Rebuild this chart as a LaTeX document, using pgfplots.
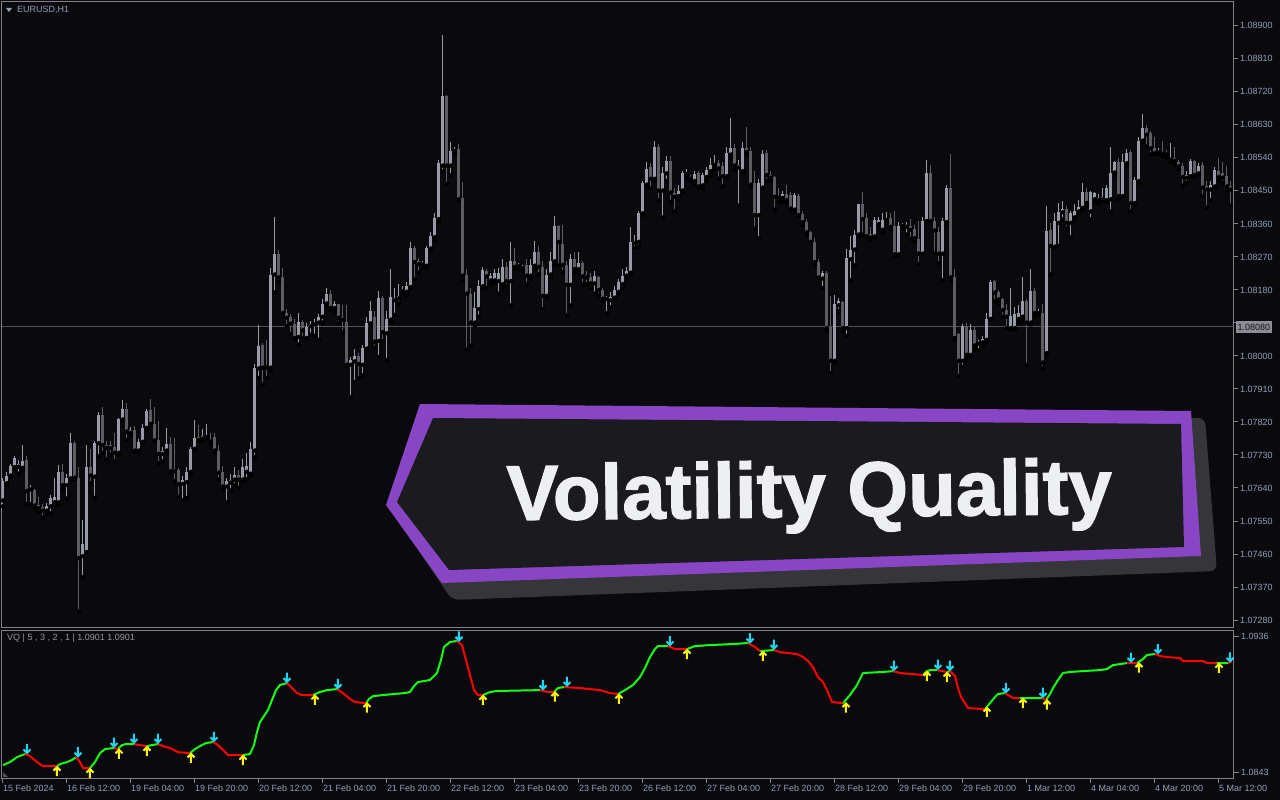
\documentclass[border=0pt]{standalone}
\usepackage{fontspec}
\setmainfont{Liberation Sans}
\newfontfamily\bannerfont[FakeBold=1.6]{Liberation Sans Bold}
\usepackage{pgfplots}
\usepackage{pgfplotstable}
\pgfplotsset{compat=1.18}

\definecolor{bgc}{RGB}{10,10,14}
\definecolor{framec}{RGB}{130,130,138}
\definecolor{labelc}{RGB}{146,158,182}
\definecolor{bullc}{RGB}{152,154,166}
\definecolor{bearc}{RGB}{92,92,98}
\definecolor{hlinec}{RGB}{80,80,86}
\definecolor{tagc}{RGB}{140,140,148}
\definecolor{vqgreen}{RGB}{20,255,20}
\definecolor{vqred}{RGB}{255,0,0}
\definecolor{vqcyan}{RGB}{30,215,245}
\definecolor{vqyellow}{RGB}{250,245,20}
\definecolor{vqlabel}{RGB}{150,150,158}
\definecolor{bannerpurple}{RGB}{137,70,196}
\definecolor{bannerfill}{RGB}{26,26,31}
\definecolor{bannershadow}{RGB}{53,53,58}
\definecolor{bannertext}{RGB}{238,239,243}

% EURUSD H1 candles: index, open, high, low, close
\pgfplotstableread{
i o h l c
0 1.07606 1.07668 1.07590 1.07658
1 1.07653 1.07684 1.07648 1.07674
2 1.07674 1.07705 1.07668 1.07700
3 1.07697 1.07726 1.07689 1.07721
4 1.07698 1.07715 1.07679 1.07705
5 1.07695 1.07757 1.07689 1.07713
6 1.07715 1.07726 1.07596 1.07632
7 1.07636 1.07648 1.07596 1.07638
8 1.07634 1.07637 1.07585 1.07592
9 1.07593 1.07616 1.07575 1.07585
10 1.07588 1.07596 1.07559 1.07578
11 1.07578 1.07598 1.07569 1.07590
12 1.07590 1.07621 1.07571 1.07613
13 1.07601 1.07668 1.07590 1.07616
14 1.07601 1.07703 1.07595 1.07684
15 1.07684 1.07705 1.07637 1.07648
16 1.07648 1.07679 1.07611 1.07666
17 1.07666 1.07789 1.07663 1.07762
18 1.07762 1.07768 1.07663 1.07668
19 1.07668 1.07697 1.07303 1.07449
20 1.07454 1.07554 1.07397 1.07486
21 1.07465 1.07757 1.07465 1.07697
22 1.07697 1.07745 1.07653 1.07674
23 1.07671 1.07768 1.07613 1.07762
24 1.07762 1.07846 1.07726 1.07839
25 1.07839 1.07860 1.07736 1.07757
26 1.07757 1.07768 1.07718 1.07749
27 1.07757 1.07768 1.07731 1.07749
28 1.07752 1.07789 1.07713 1.07736
29 1.07736 1.07830 1.07731 1.07828
30 1.07827 1.07879 1.07822 1.07856
31 1.07856 1.07872 1.07770 1.07794
32 1.07791 1.07807 1.07783 1.07799
33 1.07799 1.07810 1.07739 1.07742
34 1.07742 1.07773 1.07736 1.07766
35 1.07766 1.07815 1.07762 1.07804
36 1.07804 1.07856 1.07799 1.07851
37 1.07853 1.07882 1.07810 1.07815
38 1.07815 1.07860 1.07768 1.07770
39 1.07770 1.07822 1.07707 1.07733
40 1.07733 1.07752 1.07713 1.07742
41 1.07742 1.07804 1.07736 1.07759
42 1.07759 1.07778 1.07682 1.07686
43 1.07691 1.07775 1.07658 1.07686
44 1.07689 1.07695 1.07616 1.07651
45 1.07651 1.07672 1.07606 1.07661
46 1.07656 1.07697 1.07613 1.07684
47 1.07684 1.07752 1.07679 1.07747
48 1.07747 1.07825 1.07745 1.07776
49 1.07778 1.07812 1.07768 1.07771
50 1.07775 1.07801 1.07768 1.07781
51 1.07778 1.07815 1.07773 1.07783
52 1.07771 1.07789 1.07757 1.07766
53 1.07780 1.07789 1.07736 1.07742
54 1.07742 1.07757 1.07663 1.07682
55 1.07684 1.07700 1.07637 1.07644
56 1.07644 1.07668 1.07601 1.07658
57 1.07655 1.07679 1.07634 1.07663
58 1.07663 1.07697 1.07648 1.07676
59 1.07676 1.07689 1.07640 1.07663
60 1.07663 1.07718 1.07658 1.07697
61 1.07684 1.07736 1.07663 1.07700
62 1.07679 1.07766 1.07674 1.07745
63 1.07742 1.07978 1.07724 1.07966
64 1.07966 1.08084 1.07940 1.08027
65 1.08029 1.08034 1.07922 1.07968
66 1.07971 1.08044 1.07940 1.07968
67 1.07968 1.08239 1.07958 1.08222
68 1.08222 1.08378 1.08173 1.08279
69 1.08279 1.08288 1.08201 1.08214
70 1.08214 1.08239 1.08112 1.08117
71 1.08117 1.08128 1.08081 1.08104
72 1.08107 1.08114 1.08060 1.08088
73 1.08088 1.08101 1.08047 1.08049
74 1.08052 1.08117 1.08031 1.08093
75 1.08093 1.08099 1.08049 1.08070
76 1.08049 1.08091 1.08047 1.08078
77 1.08081 1.08096 1.08058 1.08086
78 1.08086 1.08101 1.08055 1.08091
79 1.08091 1.08114 1.08044 1.08107
80 1.08107 1.08154 1.08091 1.08143
81 1.08143 1.08185 1.08138 1.08170
82 1.08170 1.08180 1.08125 1.08131
83 1.08131 1.08149 1.08122 1.08141
84 1.08141 1.08143 1.08091 1.08104
85 1.08107 1.08138 1.08065 1.08099
86 1.08093 1.08138 1.07971 1.07976
87 1.07976 1.07997 1.07888 1.07989
88 1.07985 1.08018 1.07929 1.07999
89 1.07999 1.08008 1.07940 1.07978
90 1.07976 1.08029 1.07947 1.08023
91 1.08020 1.08107 1.08016 1.08091
92 1.08089 1.08149 1.08081 1.08122
93 1.08107 1.08122 1.08023 1.08039
94 1.08041 1.08177 1.07997 1.08159
95 1.08159 1.08164 1.08041 1.08065
96 1.08062 1.08122 1.07989 1.08101
97 1.08099 1.08237 1.08091 1.08162
98 1.08152 1.08185 1.08112 1.08159
99 1.08157 1.08196 1.08143 1.08164
100 1.08177 1.08190 1.08170 1.08182
101 1.08175 1.08201 1.08166 1.08190
102 1.08188 1.08311 1.08185 1.08293
103 1.08293 1.08300 1.08208 1.08256
104 1.08258 1.08267 1.08227 1.08250
105 1.08250 1.08260 1.08239 1.08251
106 1.08246 1.08300 1.08239 1.08295
107 1.08293 1.08337 1.08288 1.08326
108 1.08324 1.08389 1.08316 1.08376
109 1.08373 1.08535 1.08368 1.08525
110 1.08519 1.08874 1.08504 1.08709
111 1.08709 1.08712 1.08469 1.08519
112 1.08519 1.08582 1.08493 1.08559
113 1.08559 1.08571 1.08551 1.08563
114 1.08563 1.08577 1.08425 1.08427
115 1.08431 1.08475 1.08206 1.08219
116 1.08222 1.08237 1.08018 1.08170
117 1.08170 1.08185 1.08029 1.08091
118 1.08091 1.08175 1.08081 1.08131
119 1.08128 1.08206 1.08107 1.08190
120 1.08190 1.08243 1.08185 1.08235
121 1.08232 1.08237 1.08185 1.08217
122 1.08206 1.08227 1.08196 1.08219
123 1.08206 1.08237 1.08198 1.08227
124 1.08204 1.08239 1.08170 1.08227
125 1.08196 1.08264 1.08185 1.08243
126 1.08243 1.08256 1.08190 1.08204
127 1.08204 1.08311 1.08138 1.08260
128 1.08260 1.08295 1.08237 1.08243
129 1.08244 1.08253 1.08237 1.08245
130 1.08239 1.08248 1.08232 1.08243
131 1.08248 1.08264 1.08196 1.08219
132 1.08219 1.08264 1.08211 1.08248
133 1.08246 1.08313 1.08237 1.08284
134 1.08284 1.08300 1.08222 1.08243
135 1.08243 1.08258 1.08128 1.08164
136 1.08164 1.08237 1.08159 1.08222
137 1.08222 1.08284 1.08217 1.08260
138 1.08258 1.08381 1.08248 1.08354
139 1.08354 1.08357 1.08248 1.08311
140 1.08305 1.08357 1.08229 1.08248
141 1.08248 1.08260 1.08110 1.08194
142 1.08194 1.08279 1.08138 1.08264
143 1.08264 1.08284 1.08227 1.08237
144 1.08237 1.08284 1.08227 1.08253
145 1.08253 1.08258 1.08196 1.08217
146 1.08222 1.08232 1.08196 1.08214
147 1.08214 1.08227 1.08185 1.08198
148 1.08198 1.08232 1.08170 1.08217
149 1.08214 1.08219 1.08166 1.08180
150 1.08180 1.08185 1.08149 1.08156
151 1.08155 1.08164 1.08117 1.08157
152 1.08152 1.08173 1.08133 1.08162
153 1.08159 1.08190 1.08154 1.08180
154 1.08175 1.08211 1.08170 1.08201
155 1.08196 1.08237 1.08185 1.08219
156 1.08219 1.08243 1.08211 1.08232
157 1.08227 1.08352 1.08222 1.08311
158 1.08308 1.08331 1.08295 1.08313
159 1.08311 1.08394 1.08298 1.08389
160 1.08389 1.08477 1.08384 1.08472
161 1.08467 1.08530 1.08462 1.08509
162 1.08514 1.08525 1.08457 1.08483
163 1.08483 1.08587 1.08477 1.08571
164 1.08571 1.08577 1.08425 1.08451
165 1.08451 1.08514 1.08378 1.08498
166 1.08498 1.08545 1.08477 1.08532
167 1.08532 1.08545 1.08420 1.08446
168 1.08444 1.08457 1.08394 1.08434
169 1.08436 1.08467 1.08425 1.08451
170 1.08451 1.08504 1.08448 1.08498
171 1.08496 1.08509 1.08488 1.08501
172 1.08488 1.08493 1.08477 1.08483
173 1.08477 1.08504 1.08467 1.08496
174 1.08498 1.08504 1.08457 1.08462
175 1.08465 1.08498 1.08457 1.08493
176 1.08488 1.08514 1.08477 1.08507
177 1.08504 1.08540 1.08493 1.08521
178 1.08521 1.08549 1.08509 1.08525
179 1.08525 1.08535 1.08483 1.08511
180 1.08519 1.08530 1.08462 1.08490
181 1.08490 1.08571 1.08486 1.08553
182 1.08549 1.08650 1.08540 1.08566
183 1.08566 1.08577 1.08507 1.08519
184 1.08514 1.08535 1.08410 1.08521
185 1.08504 1.08582 1.08501 1.08566
186 1.08566 1.08624 1.08551 1.08556
187 1.08559 1.08571 1.08459 1.08467
188 1.08472 1.08504 1.08347 1.08384
189 1.08384 1.08483 1.08321 1.08472
190 1.08459 1.08561 1.08457 1.08551
191 1.08553 1.08561 1.08477 1.08493
192 1.08493 1.08504 1.08477 1.08486
193 1.08488 1.08490 1.08399 1.08434
194 1.08434 1.08457 1.08420 1.08431
195 1.08431 1.08451 1.08420 1.08441
196 1.08441 1.08465 1.08417 1.08425
197 1.08438 1.08446 1.08399 1.08402
198 1.08399 1.08444 1.08394 1.08438
199 1.08436 1.08441 1.08381 1.08384
200 1.08386 1.08394 1.08357 1.08365
201 1.08365 1.08373 1.08329 1.08337
202 1.08337 1.08342 1.08305 1.08311
203 1.08311 1.08321 1.08248 1.08256
204 1.08256 1.08264 1.08208 1.08214
205 1.08211 1.08232 1.08185 1.08225
206 1.08225 1.08232 1.08070 1.08076
207 1.08081 1.08164 1.07953 1.07987
208 1.07987 1.08166 1.07982 1.08143
209 1.08138 1.08159 1.08122 1.08149
210 1.08146 1.08149 1.08068 1.08076
211 1.08076 1.08292 1.08055 1.08267
212 1.08264 1.08326 1.08206 1.08288
213 1.08290 1.08344 1.08248 1.08331
214 1.08331 1.08415 1.08326 1.08413
215 1.08413 1.08448 1.08331 1.08373
216 1.08375 1.08389 1.08321 1.08326
217 1.08333 1.08352 1.08316 1.08323
218 1.08326 1.08378 1.08321 1.08371
219 1.08360 1.08378 1.08352 1.08371
220 1.08344 1.08389 1.08337 1.08371
221 1.08371 1.08392 1.08363 1.08375
222 1.08375 1.08389 1.08344 1.08352
223 1.08354 1.08394 1.08271 1.08277
224 1.08277 1.08365 1.08274 1.08354
225 1.08354 1.08363 1.08347 1.08357
226 1.08352 1.08365 1.08331 1.08357
227 1.08354 1.08373 1.08319 1.08344
228 1.08347 1.08357 1.08313 1.08321
229 1.08319 1.08368 1.08250 1.08279
230 1.08279 1.08378 1.08277 1.08368
231 1.08368 1.08535 1.08365 1.08498
232 1.08498 1.08521 1.08363 1.08368
233 1.08368 1.08378 1.08279 1.08342
234 1.08337 1.08352 1.08253 1.08279
235 1.08279 1.08375 1.08206 1.08368
236 1.08365 1.08467 1.08363 1.08459
237 1.08459 1.08551 1.08206 1.08214
238 1.08214 1.08237 1.08044 1.08049
239 1.08060 1.08062 1.07945 1.07987
240 1.07987 1.08086 1.07971 1.08081
241 1.08081 1.08091 1.07992 1.08003
242 1.08003 1.08086 1.07997 1.08072
243 1.08072 1.08081 1.08018 1.08029
244 1.08033 1.08044 1.08016 1.08035
245 1.08037 1.08055 1.08029 1.08047
246 1.08044 1.08117 1.08039 1.08101
247 1.08101 1.08208 1.08099 1.08201
248 1.08203 1.08206 1.08149 1.08173
249 1.08173 1.08180 1.08143 1.08154
250 1.08156 1.08159 1.08107 1.08125
251 1.08125 1.08143 1.08076 1.08107
252 1.08076 1.08185 1.08072 1.08110
253 1.08076 1.08133 1.08072 1.08114
254 1.08101 1.08138 1.08091 1.08117
255 1.08107 1.08214 1.08099 1.08149
256 1.08149 1.08154 1.07976 1.08091
257 1.08091 1.08237 1.08086 1.08177
258 1.08177 1.08185 1.08110 1.08117
259 1.08117 1.08128 1.08112 1.08119
260 1.08117 1.08143 1.07966 1.07982
261 1.08008 1.08410 1.08003 1.08342
262 1.08344 1.08363 1.08222 1.08300
263 1.08298 1.08389 1.08295 1.08368
264 1.08363 1.08417 1.08300 1.08392
265 1.08392 1.08423 1.08373 1.08402
266 1.08402 1.08410 1.08347 1.08363
267 1.08363 1.08396 1.08323 1.08389
268 1.08378 1.08413 1.08373 1.08394
269 1.08394 1.08425 1.08389 1.08407
270 1.08404 1.08472 1.08399 1.08448
271 1.08448 1.08457 1.08410 1.08417
272 1.08394 1.08451 1.08373 1.08446
273 1.08427 1.08448 1.08420 1.08444
274 1.08425 1.08441 1.08417 1.08431
275 1.08427 1.08457 1.08423 1.08434
276 1.08425 1.08467 1.08420 1.08459
277 1.08427 1.08571 1.08394 1.08500
278 1.08500 1.08532 1.08493 1.08528
279 1.08528 1.08540 1.08427 1.08436
280 1.08436 1.08551 1.08434 1.08528
281 1.08525 1.08563 1.08519 1.08553
282 1.08556 1.08561 1.08394 1.08417
283 1.08417 1.08488 1.08413 1.08480
284 1.08477 1.08598 1.08472 1.08587
285 1.08587 1.08660 1.08582 1.08622
286 1.08622 1.08629 1.08571 1.08603
287 1.08608 1.08613 1.08549 1.08566
288 1.08566 1.08598 1.08549 1.08553
289 1.08555 1.08566 1.08551 1.08559
290 1.08556 1.08587 1.08545 1.08551
291 1.08553 1.08561 1.08540 1.08549
292 1.08535 1.08580 1.08528 1.08540
293 1.08540 1.08571 1.08521 1.08532
294 1.08528 1.08535 1.08509 1.08517
295 1.08519 1.08525 1.08465 1.08488
296 1.08486 1.08504 1.08472 1.08493
297 1.08490 1.08538 1.08488 1.08532
298 1.08532 1.08535 1.08488 1.08493
299 1.08498 1.08525 1.08493 1.08519
300 1.08521 1.08528 1.08436 1.08459
301 1.08462 1.08477 1.08404 1.08454
302 1.08454 1.08477 1.08425 1.08465
303 1.08462 1.08514 1.08457 1.08507
304 1.08504 1.08540 1.08477 1.08488
305 1.08498 1.08530 1.08472 1.08486
306 1.08490 1.08519 1.08451 1.08462
307 1.08464 1.08477 1.08410 1.08454
}\candles

% signal arrows of the VQ indicator
\pgfdeclareplotmark{vqdown}{%
  \pgfsetlinewidth{2pt}%
  \pgfpathmoveto{\pgfqpoint{0pt}{10.5pt}}\pgfpathlineto{\pgfqpoint{0pt}{1.5pt}}%
  \pgfpathmoveto{\pgfqpoint{-3.5pt}{5pt}}\pgfpathlineto{\pgfqpoint{0pt}{1.5pt}}\pgfpathlineto{\pgfqpoint{3.5pt}{5pt}}%
  \pgfusepathqstroke}
\pgfdeclareplotmark{vqup}{%
  \pgfsetlinewidth{2pt}%
  \pgfpathmoveto{\pgfqpoint{0pt}{-10pt}}\pgfpathlineto{\pgfqpoint{0pt}{-1pt}}%
  \pgfpathmoveto{\pgfqpoint{-3.5pt}{-4.5pt}}\pgfpathlineto{\pgfqpoint{0pt}{-1pt}}\pgfpathlineto{\pgfqpoint{3.5pt}{-4.5pt}}%
  \pgfusepathqstroke}

\pgfplotsset{
  mtpanel/.style={
    scale only axis, width=1232pt, xmin=-0.25, xmax=307.75,
    axis line style={framec, line width=1pt},
    tick style={framec, line width=1pt},
    tick align=outside, major tick length=4pt,
    ytick pos=right, yticklabel pos=right,
    yticklabel style={anchor=west, inner sep=0pt, xshift=2pt},
    tick label style={font=\fontsize{9}{10}\selectfont, text=labelc},
  },
  wick/.style={only marks, mark=none, error bars/.cd, y dir=plus, y explicit,
    error mark=none, error bar style={line width=1pt, draw=#1}},
  body/.style={only marks, mark=none, error bars/.cd, y dir=plus, y explicit,
    error mark=none, error bar style={line width=3pt, draw=#1}},
}

\begin{document}
\begin{tikzpicture}
\fill[bgc] (0pt,0pt) rectangle (1280pt,-800pt);

% price panel
\begin{axis}[mtpanel,
  at={(2pt,-627pt)}, anchor=south west, height=625pt,
  ymin=1.07261, ymax=1.08965,
  xtick=\empty,
  ytick={1.0728,1.0737,1.0746,1.0755,1.0764,1.0773,1.0782,1.0791,1.08,1.0809,1.0818,1.0827,1.0836,1.0845,1.0854,1.0863,1.0872,1.0881,1.089},
  yticklabels={1.07280,1.07370,1.07460,1.07550,1.07640,1.07730,1.07820,1.07910,1.08000,{},1.08180,1.08270,1.08360,1.08450,1.08540,1.08630,1.08720,1.08810,1.08900},
]
\addplot[hlinec, line width=1pt] coordinates {(-0.25,1.0808) (307.75,1.0808)};
\addplot[wick=bearc] table[x=i, y expr={\thisrow{c}<\thisrow{o} ? \thisrow{l} : nan}, y error expr={\thisrow{h}-\thisrow{l}}] {\candles};
\addplot[body=bearc] table[x=i, y expr={\thisrow{c}<\thisrow{o} ? \thisrow{c} : nan}, y error expr={max(\thisrow{o}-\thisrow{c},0.000028)}] {\candles};
\addplot[wick=bullc] table[x=i, y expr={\thisrow{c}>=\thisrow{o} ? \thisrow{l} : nan}, y error expr={\thisrow{h}-\thisrow{l}}] {\candles};
\addplot[body=bullc] table[x=i, y expr={\thisrow{c}>=\thisrow{o} ? \thisrow{o} : nan}, y error expr={max(\thisrow{c}-\thisrow{o},0.000028)}] {\candles};
\end{axis}

% Volatility Quality panel
\begin{axis}[mtpanel,
  at={(2pt,-778pt)}, anchor=south west, height=148pt,
  ymin=1.08394, ymax=1.09406,
  ytick={1.0843,1.0936}, yticklabels={1.0843,1.0936},
  xtick pos=left, major tick length=5pt,
  xtick={0,16,32,48,64,80,96,112,128,144,160,176,192,208,224,240,256,272,288,304},
  xticklabels={15 Feb 2024,16 Feb 12:00,19 Feb 04:00,19 Feb 20:00,20 Feb 12:00,21 Feb 04:00,21 Feb 20:00,22 Feb 12:00,23 Feb 04:00,23 Feb 20:00,26 Feb 12:00,27 Feb 04:00,27 Feb 20:00,28 Feb 12:00,29 Feb 04:00,29 Feb 20:00,1 Mar 12:00,4 Mar 04:00,4 Mar 20:00,5 Mar 12:00},
  xticklabel style={anchor=north west, inner sep=0pt, yshift=-2pt},
]
\addplot[vqgreen, line width=2pt, unbounded coords=jump, line join=round] coordinates {
(0,1.08482) (1.75,1.08503) (3.5,1.08537) (5.5,1.08558) (6,nan)
(13.5,1.08475) (14.25,1.08489) (16,1.08503) (17.25,1.08517) (18.25,1.08537) (18.5,nan)
(21.75,1.08462) (23,1.08503) (24.25,1.08564) (25.5,1.08592) (27.75,1.08599) (28,nan)
(28.75,1.08592) (29.75,1.08619) (30.75,1.08626) (32.75,1.08626) (33,nan)
(36,1.08612) (37.25,1.08619) (38.75,1.08626) (39,nan)
(46.75,1.08564) (48,1.08592) (49.25,1.08612) (50.75,1.08633) (52.5,1.08640) (53,nan)
(60,1.08551) (61.75,1.08558) (62.75,1.08619) (63.5,1.08708) (64.25,1.08777) (65.25,1.08818) (66.25,1.08859) (67.25,1.08927) (68.25,1.08995) (69.25,1.09030) (71,1.09043) (71.5,nan)
(77.5,1.08961) (79.25,1.08982) (81,1.08995) (83.5,1.09002) (84,nan)
(90.75,1.08906) (91.5,1.08934) (92.5,1.08954) (97.5,1.08968) (100.5,1.08975) (101.75,1.08982) (102.75,1.09023) (103.75,1.09050) (106.75,1.09064) (108.5,1.09112) (109.5,1.09201) (110.25,1.09290) (111.75,1.09324) (113.5,1.09331) (114,nan)
(120,1.08961) (121.75,1.08982) (123.5,1.08989) (134.25,1.08995) (135,nan)
(137.75,1.08982) (138.75,1.09009) (140.25,1.09016) (141,nan)
(153.75,1.08968) (155.5,1.08995) (157.5,1.09030) (159.25,1.09084) (160.5,1.09146) (161.75,1.09221) (163,1.09276) (163.75,1.09296) (166.25,1.09296) (167,nan)
(171,1.09276) (173,1.09296) (176.75,1.09303) (182.5,1.09310) (186.25,1.09317) (187,nan)
(189.25,1.09262) (192.75,1.09269) (193,nan)
(210,1.08906) (211.75,1.08961) (213.5,1.09030) (215,1.09112) (220,1.09119) (222.5,1.09125) (223,nan)
(230,1.09098) (231,1.09125) (232,1.09132) (233.5,1.09132) (234,nan)
(236,1.09119) (236.75,1.09125) (237,nan)
(245.5,1.08865) (246.75,1.08906) (248,1.08948) (248.75,1.08968) (250.5,1.08975) (251,nan)
(254.25,1.08941) (259.75,1.08941) (260,nan)
(260.75,1.08927) (261.75,1.08968) (262.5,1.09009) (263.75,1.09064) (265,1.09112) (266.75,1.09119) (270,1.09125) (274.25,1.09132) (276,1.09139) (277.5,1.09166) (281,1.09180) (282,nan)
(283.5,1.09180) (285,1.09207) (286,1.09235) (288,1.09242) (288.5,nan)
(303.5,1.09180) (306.25,1.09180)
};
\addplot[vqred, line width=2pt, unbounded coords=jump, line join=round] coordinates {
(5.5,1.08558) (6.75,1.08544) (8.5,1.08503) (10,1.08475) (13.5,1.08475) (14,nan)
(18.25,1.08537) (19.25,1.08503) (20,1.08462) (21.75,1.08462) (22,nan)
(27.75,1.08599) (28.75,1.08592) (28.8,nan)
(32.75,1.08626) (34.25,1.08619) (36,1.08612) (36.2,nan)
(38.75,1.08626) (40,1.08612) (41.75,1.08599) (43.75,1.08571) (46.75,1.08564) (47,nan)
(52.5,1.08640) (53.75,1.08619) (55,1.08585) (56.25,1.08551) (60,1.08551) (60.5,nan)
(71,1.09043) (72.25,1.09009) (73.5,1.08975) (74.75,1.08961) (77.5,1.08961) (78,nan)
(83.5,1.09002) (85,1.08975) (86.75,1.08934) (88,1.08913) (90.75,1.08906) (91,nan)
(113.5,1.09331) (114.75,1.09303) (115.75,1.09201) (116.75,1.09098) (117.75,1.08995) (118.75,1.08961) (120,1.08961) (120.5,nan)
(134.25,1.08995) (136.25,1.08982) (137.75,1.08982) (138,nan)
(140.25,1.09016) (144.25,1.09009) (146.75,1.09002) (149.25,1.08995) (151.75,1.08975) (153.75,1.08968) (154,nan)
(166.25,1.09296) (168,1.09276) (171,1.09276) (171.5,nan)
(186.25,1.09317) (188,1.09290) (189.25,1.09262) (189.5,nan)
(192.75,1.09269) (194.25,1.09255) (196,1.09249) (198.5,1.09242) (200,1.09221) (201.25,1.09194) (202.5,1.09153) (203.75,1.09084) (205,1.09050) (206,1.08995) (207.25,1.08913) (210,1.08906) (210.5,nan)
(222.5,1.09125) (224.25,1.09112) (230,1.09098) (230.5,nan)
(233.5,1.09132) (236,1.09119) (236.2,nan)
(236.75,1.09125) (238,1.09091) (238.75,1.09009) (239.5,1.08948) (240.5,1.08906) (241.25,1.08872) (245.5,1.08865) (246,nan)
(250.5,1.08975) (251.75,1.08954) (252.5,1.08941) (254.25,1.08941) (254.5,nan)
(259.75,1.08941) (260.75,1.08927) (261,nan)
(281,1.09180) (283.5,1.09180) (284,nan)
(288,1.09242) (289.25,1.09228) (291,1.09221) (294.25,1.09214) (295,1.09194) (300,1.09194) (301,1.09180) (303.5,1.09180) (304,nan)
(306.25,1.09180) (307.25,1.09194)
};
\addplot[vqcyan, only marks, mark=vqdown] coordinates {
(6,1.08555) (18.75,1.08533) (27.75,1.08599) (32.75,1.08626) (38.75,1.08626) (52.75,1.08638)
(71,1.09043) (83.75,1.09000) (114,1.09325) (135,1.08993) (141,1.09016) (166.75,1.09293)
(186.75,1.09313) (192.75,1.09269) (222.75,1.09124) (233.75,1.09132) (236.75,1.09125)
(250.75,1.08972) (260,1.08940) (282,1.09180) (288.75,1.09238) (306.75,1.09182)
};
\addplot[vqyellow, only marks, mark=vqup] coordinates {
(13.5,1.08475) (21.75,1.08462) (29,1.08594) (36,1.08612) (47,1.08566) (60,1.08551)
(78,1.08963) (91,1.08910) (120,1.08961) (138,1.08985) (154,1.08970) (171,1.09276)
(190,1.09263) (210.75,1.08910) (231,1.09125) (236,1.09119) (246,1.08880) (255,1.08941)
(261,1.08930) (284,1.09183) (304,1.09180)
};
\end{axis}

% panel captions
\fill[labelc] (6pt,-8pt) -- (12pt,-8pt) -- (9pt,-12pt) -- cycle;
\node[anchor=west, inner sep=0pt, text=labelc, font=\fontsize{9}{10}\selectfont] at (17pt,-10pt) {EURUSD,H1};
\node[anchor=west, inner sep=0pt, text=vqlabel, font=\fontsize{9}{10}\selectfont] at (7pt,-638pt) {VQ | 5 , 3 , 2 , 1 | 1.0901 1.0901};
\fill[framec!60!bgc] (3pt,-777pt) -- (3pt,-772pt) -- (8pt,-777pt) -- cycle;

% current price tag
\node[anchor=west, fill=tagc, text={rgb,255:red,18;green,18;blue,22}, inner xsep=2pt, inner ysep=0pt, minimum height=12pt, font=\fontsize{9}{10}\selectfont] at (1235.5pt,-327pt) {1.08080};

% title banner
\fill[bannershadow, rounded corners=7pt] (391pt,-510pt) -- (425pt,-411pt) -- (1205pt,-418pt) -- (1217pt,-571pt) -- (452pt,-600pt) -- cycle;
\fill[bannerpurple] (386pt,-505pt) -- (420pt,-404pt) -- (1191pt,-411pt) -- (1201pt,-556pt) -- (442pt,-583pt) -- cycle;
\fill[bannerfill] (397pt,-502pt) -- (433pt,-418pt) -- (1181pt,-424pt) -- (1184pt,-547pt) -- (449pt,-570pt) -- cycle;
\node[anchor=base, inner sep=0pt, rotate=0.6, text=bannertext, font=\fontsize{78}{80}\selectfont\bannerfont] at (809.5pt,-517pt) {Volatility Quality};
\end{tikzpicture}
\end{document}
